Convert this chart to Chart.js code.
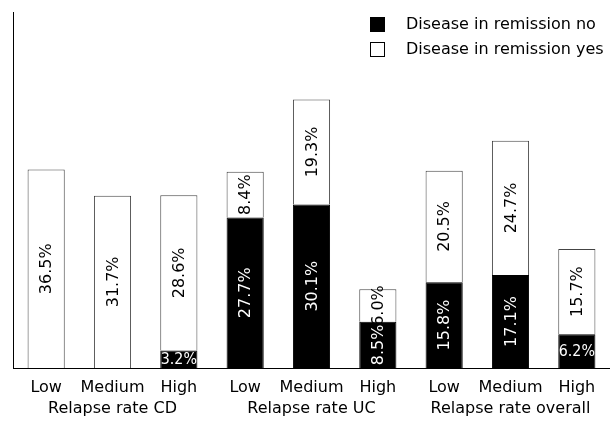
<!DOCTYPE html>
<html>
<head>
<meta charset="utf-8">
<script src="https://cdn.jsdelivr.net/npm/chart.js@4.4.1/dist/chart.umd.min.js"></script>
<style>
  body { margin: 0; background: #fff; }
</style>
</head>
<body>
<canvas id="relapseChart" width="610" height="421"></canvas>
<script>
var categories = ['Low', 'Medium', 'High', 'Low', 'Medium', 'High', 'Low', 'Medium', 'High'];
var groupNames = ['Relapse rate CD', 'Relapse rate UC', 'Relapse rate overall'];
var seriesNames = ['Disease in remission no', 'Disease in remission yes'];
var remissionNo = [0, 0, 3.2, 27.7, 30.1, 8.5, 15.8, 17.1, 6.2];
var remissionYes = [36.5, 31.7, 28.6, 8.4, 19.3, 6.0, 20.5, 24.7, 15.7];

var FAMILY = '"DejaVu Sans", Verdana, sans-serif';
var FONT = '16px ' + FAMILY;

// group name sits under the middle bar of each group
var xLabels = categories.map(function(c, i) {
    return i % 3 === 1 ? [c, groupNames[(i - 1) / 3]] : c;
});

var valueLabels = {
    id: 'valueLabels',
    afterDatasetsDraw: function(chart) {
        var ctx = chart.ctx;
        ctx.save();
        ctx.font = FONT;
        ctx.textAlign = 'center';
        ctx.textBaseline = 'middle';
        chart.data.datasets.forEach(function(ds, di) {
            chart.getDatasetMeta(di).data.forEach(function(bar, i) {
                var v = ds.data[i];
                if (!v) return;
                var p = bar.getProps(['x', 'y', 'base', 'width'], true);
                var h = p.base - p.y;
                var mid = (p.y + p.base) / 2;
                var txt = v.toFixed(1) + '%';
                ctx.fillStyle = di === 0 ? '#fff' : '#000';
                if (di === 0 && h < 40) {
                    // short black segments get squeezed horizontal text
                    ctx.fillText(txt, p.x, mid + 1, p.width - 1);
                } else {
                    ctx.save();
                    ctx.translate(p.x, mid);
                    ctx.rotate(-Math.PI / 2);
                    ctx.fillText(txt, 0, 1);
                    ctx.restore();
                }
            });
        });
        ctx.restore();
    }
};

var legendBox = {
    id: 'legendBox',
    afterDraw: function(chart) {
        var ctx = chart.ctx;
        ctx.save();
        ctx.font = FONT;
        ctx.textAlign = 'left';
        ctx.textBaseline = 'middle';
        chart.data.datasets.forEach(function(ds, di) {
            var top = 17 + di * 25;
            ctx.fillStyle = ds.backgroundColor;
            ctx.fillRect(370, top, 15, 15);
            ctx.strokeStyle = '#000';
            ctx.lineWidth = 1;
            ctx.strokeRect(370.5, top + 0.5, 14, 14);
            ctx.fillStyle = '#000';
            ctx.fillText(ds.label, 406, top + 7.5);
        });
        ctx.restore();
    }
};

new Chart(document.getElementById('relapseChart'), {
    type: 'bar',
    data: {
        labels: xLabels,
        datasets: [
            { label: seriesNames[0], data: remissionNo, backgroundColor: '#000', borderColor: '#000', borderWidth: 1 },
            { label: seriesNames[1], data: remissionYes, backgroundColor: '#fff', borderColor: '#444', borderWidth: 1 }
        ]
    },
    options: {
        responsive: false,
        animation: false,
        layout: { padding: { left: 5, top: 12, right: 0, bottom: 0 } },
        datasets: { bar: { categoryPercentage: 1, barPercentage: 0.56 } },
        plugins: {
            legend: { display: false },
            tooltip: { enabled: false }
        },
        scales: {
            x: {
                stacked: true,
                grid: { display: false },
                border: { color: '#000', width: 1 },
                ticks: {
                    color: '#000',
                    font: { family: FAMILY, size: 16, lineHeight: 1.3125 },
                    padding: 1,
                    maxRotation: 0,
                    autoSkip: false
                },
                afterFit: function(scale) { scale.height = 53; }
            },
            y: {
                stacked: true,
                min: 0,
                max: 65.5,
                grid: { display: false },
                ticks: { display: false },
                border: { color: '#000', width: 1 }
            }
        }
    },
    plugins: [valueLabels, legendBox]
});
</script>
</body>
</html>
